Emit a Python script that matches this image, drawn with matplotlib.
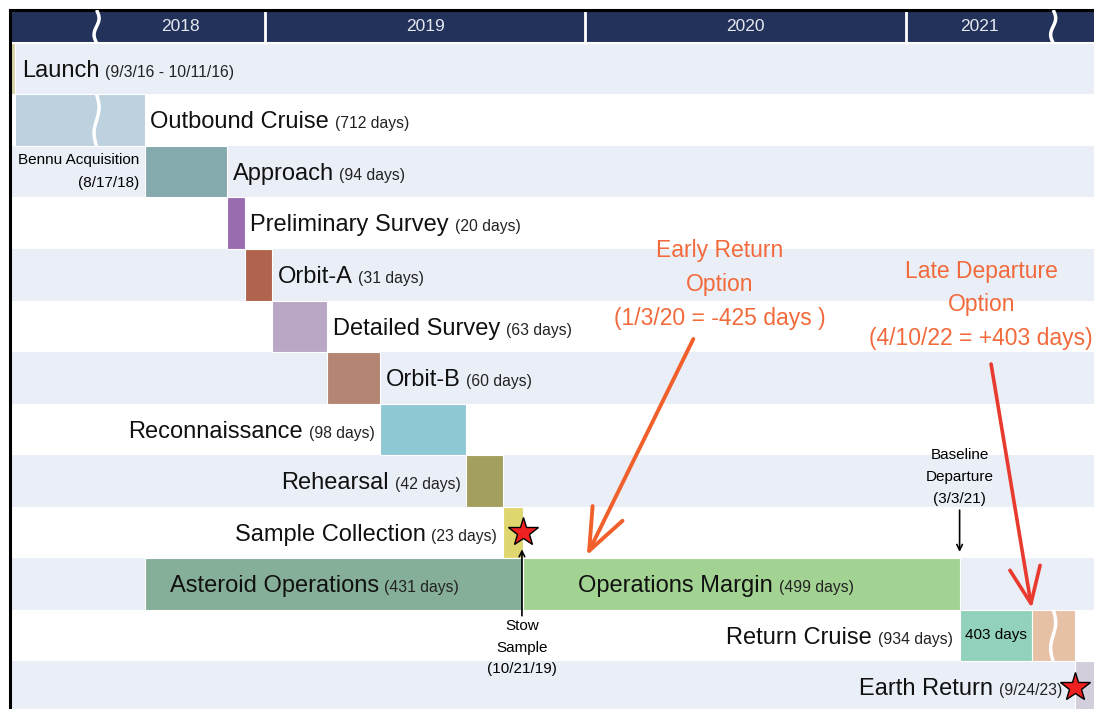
import numpy as np
import matplotlib
matplotlib.use("Agg")
import matplotlib.pyplot as plt
from matplotlib.transforms import IdentityTransform

plt.rcParams['font.family'] = ['Liberation Sans', 'DejaVu Sans']

# ---------------- mission data ----------------
launch_start = "2016-09-03"
launch_end = "2016-10-11"
bennu_acquisition = "2018-08-17"
outbound_days = 712

phase_names = ["Approach", "Preliminary Survey", "Orbit-A", "Detailed Survey",
               "Orbit-B", "Reconnaissance", "Rehearsal", "Sample Collection"]
phase_days = [94, 20, 31, 63, 60, 98, 42, 23]
phase_colors = ["#84AAAD", "#9A6CB0", "#B0644E", "#B9A7C5",
                "#B48572", "#8FC9D4", "#A29F5F", "#E0D66F"]
phase_label_side = ["right", "right", "right", "right", "right", "left", "left", "left"]

asteroid_ops_days = 431
ops_margin_days = 499
stow_date = "2019-10-21"
baseline_departure = "2021-03-03"
early_departure = "2020-01-03"
late_departure = "2022-04-10"
earth_return = "2023-09-24"
return_cruise_days = 934
late_extra_days = 403

year_starts = ["2019-01-01", "2020-01-01", "2021-01-01"]
year_labels = ["2018", "2019", "2020", "2021"]

NAVY = "#22325A"
STRIPE = "#EAEEF7"
BIG, SMALL, NOTE = 17, 11.3, 11
ORANGE = "#F26A3B"


def day(s):
    return float((np.datetime64(s) - np.datetime64(bennu_acquisition)).astype(int))


# ---------------- broken time axis ----------------
left_break = day("2018-06-23")
k_left, k_mid, k_tail = 0.15, 0.204, 0.092
t0, t1 = day(launch_start), left_break
t2, t3, t4 = day(baseline_departure), day(late_departure), day(earth_return)
u0 = t1 - (t1 - t0) * k_left
u3 = t2 + (t3 - t2) * k_mid
u4 = u3 + (t4 - t3) * k_tail
knot_t = np.array([t0 - 5000, t0, t1, t2, t3, t4, t4 + 5000])
knot_u = np.array([u0 - 5000 * k_left, u0, t1, t2, u3, u4, u4 + 5000 * k_tail])


def fwd(t):
    return np.interp(t, knot_t, knot_u)


def inv(u):
    return np.interp(u, knot_u, knot_t)


fig = plt.figure(figsize=(10.94, 7.09), dpi=100)
ax = fig.add_axes([10 / 1094, 0, 1084 / 1094, 699 / 709])
ax.set_xscale("function", functions=(fwd, inv))
x_min, x_max = t0, t4 + 240
ax.set_xlim(x_min, x_max)
ax.set_ylim(12.93, -0.64)
ax.set_xticks([])
ax.set_yticks([])
for side in ["right", "bottom"]:
    ax.spines[side].set_visible(False)
for side in ["left", "top"]:
    ax.spines[side].set_linewidth(2.2)
    ax.spines[side].set_color("black")

# row stripes and header
for i in range(0, 13, 2):
    ax.axhspan(i, i + 1, color=STRIPE, zorder=0, lw=0)
ax.axhspan(-0.64, 0, color=NAVY, zorder=1, lw=0)
ax.axhline(0, color="white", lw=1.5, zorder=2)
for ys in year_starts:
    ax.plot([day(ys)] * 2, [-0.64, 0], color="white", lw=2, zorder=2)

right_break = inv((u3 + u4) / 2)
cells = [left_break] + [day(y) for y in year_starts] + [right_break]
for lab, a, b in zip(year_labels, cells[:-1], cells[1:]):
    xm = inv((fwd(a) + fwd(b)) / 2)
    ax.text(xm, -0.32, lab, ha="center", va="center", color="#E6E8EF", fontsize=12.5, zorder=3)

bar_kw = dict(height=1, edgecolor="white", linewidth=0.8, zorder=2)

# launch and cruise
ax.barh(0.5, day(launch_end) - day(launch_start), left=day(launch_start), color="#D8D3A7", **bar_kw)
ax.barh(1.5, 0 - day(launch_end), left=day(launch_end), color="#BDD1DF", **bar_kw)

# asteroid phases
starts = np.concatenate([[0], np.cumsum(phase_days)[:-1]])
for i, (name, d, s, c) in enumerate(zip(phase_names, phase_days, starts, phase_colors)):
    ax.barh(i + 2.5, d, left=s, color=c, **bar_kw)

ax.barh(10.5, asteroid_ops_days, left=0, color="#85AF99", **bar_kw)
ax.barh(10.5, ops_margin_days, left=asteroid_ops_days, color="#A3D392", **bar_kw)
ax.barh(11.5, late_extra_days, left=t2, color="#92D2BC", **bar_kw)
ax.barh(11.5, return_cruise_days - late_extra_days, left=t2 + late_extra_days, color="#E7C1A6", **bar_kw)
ax.barh(12.5, x_max - t4, left=t4, color="#D3CEDC", **bar_kw)


def label(x, row, big, small, side, pad=4):
    y = row + 0.5 + 0.16
    if side == "right":
        a = ax.annotate(big, xy=(x, y), xytext=(pad, 0), textcoords="offset points",
                        ha="left", va="baseline", fontsize=BIG, color="#111111", zorder=5)
        ax.annotate(small, xy=(1, y), xycoords=(a, "data"), xytext=(4, 0),
                    textcoords="offset points", ha="left", va="baseline", fontsize=SMALL,
                    color="#222222", zorder=5)
    else:
        a = ax.annotate(small, xy=(x, y), xytext=(-pad, 0), textcoords="offset points",
                        ha="right", va="baseline", fontsize=SMALL, color="#222222", zorder=5)
        ax.annotate(big, xy=(0, y), xycoords=(a, "data"), xytext=(-4, 0),
                    textcoords="offset points", ha="right", va="baseline", fontsize=BIG,
                    color="#111111", zorder=5)


label(day(launch_end), 0, "Launch", "(9/3/16 - 10/11/16)", "right", pad=5)
label(0, 1, "Outbound Cruise", "(%d days)" % outbound_days, "right")
for i, (name, d, s, side) in enumerate(zip(phase_names, phase_days, starts, phase_label_side)):
    x = s + d if side == "right" else s
    label(x, i + 2, name, "(%d days)" % d, side)
label(0, 10, "Asteroid Operations", "(%d days)" % asteroid_ops_days, "right", pad=18)
label(asteroid_ops_days, 10, "Operations Margin", "(%d days)" % ops_margin_days, "right", pad=40)
label(t2, 11, "Return Cruise", "(%d days)" % return_cruise_days, "left", pad=5)
label(t4, 12, "Earth Return", "(9/24/23)", "left", pad=9)

ax.text(inv((fwd(t2) + fwd(t3)) / 2), 11.5, "%d days" % late_extra_days,
        ha="center", va="center", fontsize=NOTE, zorder=5)

ax.annotate("Bennu Acquisition\n(8/17/18)", xy=(0, 2.5), xytext=(-4, 0), textcoords="offset points",
            ha="right", va="center", multialignment="right", fontsize=NOTE, linespacing=1.8, zorder=5)

# stars
ax.plot([asteroid_ops_days, t4], [9.5, 12.5], ls="none", marker="*", markersize=22,
        markerfacecolor="#EE2020", markeredgecolor="black", markeredgewidth=1.0, zorder=6)

# stow sample
ax.annotate("", xy=(day(stow_date), 9.83), xytext=(day(stow_date), 11.12),
            arrowprops=dict(arrowstyle="->", lw=1.2, color="black", shrinkA=0, shrinkB=0), zorder=6)
ax.text(day(stow_date), 11.18, "Stow\nSample\n(10/21/19)", ha="center", va="top",
        fontsize=NOTE, linespacing=1.7, zorder=5)

# baseline departure
ax.annotate("", xy=(t2, 9.88), xytext=(t2, 9.07),
            arrowprops=dict(arrowstyle="->", lw=1.2, color="black", shrinkA=0, shrinkB=0), zorder=6)
ax.text(t2, 8.98, "Baseline\nDeparture\n(3/3/21)", ha="center", va="bottom",
        fontsize=NOTE, linespacing=1.7, zorder=5)

# options
ax.annotate("Early Return\nOption\n(1/3/20 = -425 days )", xy=(day(early_departure), 9.95),
            xytext=(0.655, 0.607), textcoords="axes fraction", ha="center", va="center",
            fontsize=16.5, color=ORANGE, linespacing=1.6, zorder=5,
            arrowprops=dict(arrowstyle="->,head_length=1.5,head_width=0.6", lw=2.8, color="#F15F2B",
                            shrinkA=5, shrinkB=0, mutation_scale=20))
ax.annotate("Late Departure\nOption\n(4/10/22 = +403 days)", xy=(t3, 10.97),
            xytext=(0.896, 0.578), textcoords="axes fraction", ha="center", va="center",
            fontsize=16.5, color=ORANGE, linespacing=1.6, zorder=5,
            arrowprops=dict(arrowstyle="->,head_length=1.3,head_width=0.55", lw=2.6, color="#E83A2E",
                            shrinkA=8, shrinkB=0, mutation_scale=20))


# break marks drawn in pixel space
def draw_break(xt, ya, yb, amp=2.5):
    px, pa = ax.transData.transform((xt, ya))
    _, pb = ax.transData.transform((xt, yb))
    s = np.linspace(0, 1, 40)
    ax.plot(px + amp * np.sin(2 * np.pi * s), pa + (pb - pa) * s, color="white", lw=2.5,
            transform=IdentityTransform(), zorder=4, solid_capstyle="butt")


draw_break(left_break, -0.64, 0)
draw_break(left_break, 1, 2)
draw_break(right_break, -0.64, 0)
draw_break(right_break, 11, 12)

fig.savefig("out.png", dpi=100)
